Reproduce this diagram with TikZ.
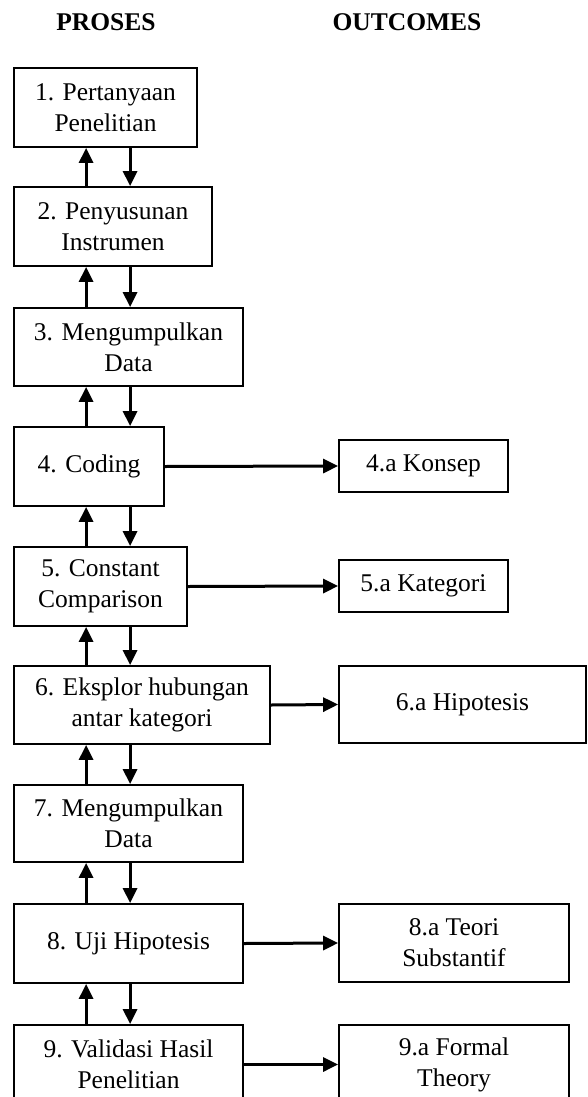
\documentclass[tikz,border=0pt]{standalone}
\usepackage{fontspec}
\setmainfont{Liberation Serif}
\usetikzlibrary{arrows.meta}
\begin{document}
\begin{tikzpicture}[x=1pt,y=-1pt,
  pbox/.style={draw, line width=1.8pt, inner sep=0pt, align=center, font=\fontsize{25.5}{31}\selectfont},
  conn/.style={line width=3pt, -{Triangle[length=15pt,width=14pt]}},
  hdr/.style={font=\fontsize{25.5}{31}\selectfont\bfseries}]
\useasboundingbox (0,0) rectangle (587,1097);
\clip (0,0) rectangle (587,1097);
\node[hdr] (hp) at (106,22) {PROSES};
\node[hdr] (ho) at (407,22) {OUTCOMES};
\node[pbox, minimum width=183pt, minimum height=79pt] (b1) at (105.5,107.5) {1. Pertanyaan\\Penelitian};
\node[pbox, minimum width=198pt, minimum height=79pt] (b2) at (113,226.5) {2. Penyusunan\\Instrumen};
\node[pbox, minimum width=229pt, minimum height=78pt] (b3) at (128.5,347) {3. Mengumpulkan\\Data};
\node[pbox, minimum width=150pt, minimum height=79pt] (b4) at (89,466.5) {4. Coding};
\node[pbox, minimum width=173pt, minimum height=79pt] (b5) at (100.5,586.5) {5. Constant\\Comparison};
\node[pbox, minimum width=256pt, minimum height=78pt] (b6) at (142,705) {6. Eksplor hubungan\\antar kategori};
\node[pbox, minimum width=229pt, minimum height=77pt] (b7) at (128.5,823.5) {7. Mengumpulkan\\Data};
\node[pbox, minimum width=229pt, minimum height=79pt] (b8) at (128.5,943.5) {8. Uji Hipotesis};
\node[pbox, minimum width=229pt, minimum height=79pt] (b9) at (128.5,1064.5) {9. Validasi Hasil\\Penelitian};
\node[pbox, minimum width=169pt, minimum height=52pt] (a4) at (423.5,466) {4.a Konsep};
\node[pbox, minimum width=169pt, minimum height=52pt] (a5) at (423.5,586) {5.a Kategori};
\node[pbox, minimum width=247pt, minimum height=77pt] (a6) at (462.5,704.5) {6.a Hipotesis};
\node[pbox, minimum width=230pt, minimum height=78pt] (a8) at (454,943) {8.a Teori\\Substantif};
\node[pbox, minimum width=230pt, minimum height=79pt] (a9) at (454,1064.5) {9.a Formal\\Theory};
\foreach \u/\l in {b1/b2,b2/b3,b3/b4,b4/b5,b5/b6,b6/b7,b7/b8,b8/b9}{
  \draw[conn] ([xshift=73pt]\l.north west) -- ([xshift=73pt]\u.south west);
  \draw[conn] ([xshift=117pt]\u.south west) -- ([xshift=117pt]\l.north west);
}
\draw[conn] (b4.east) -- (a4.west);
\draw[conn] (b5.east) -- (a5.west);
\draw[conn] (b6.east) -- (a6.west);
\draw[conn] (b8.east) -- (a8.west);
\draw[conn] (b9.east) -- (a9.west);
\end{tikzpicture}
\end{document}
